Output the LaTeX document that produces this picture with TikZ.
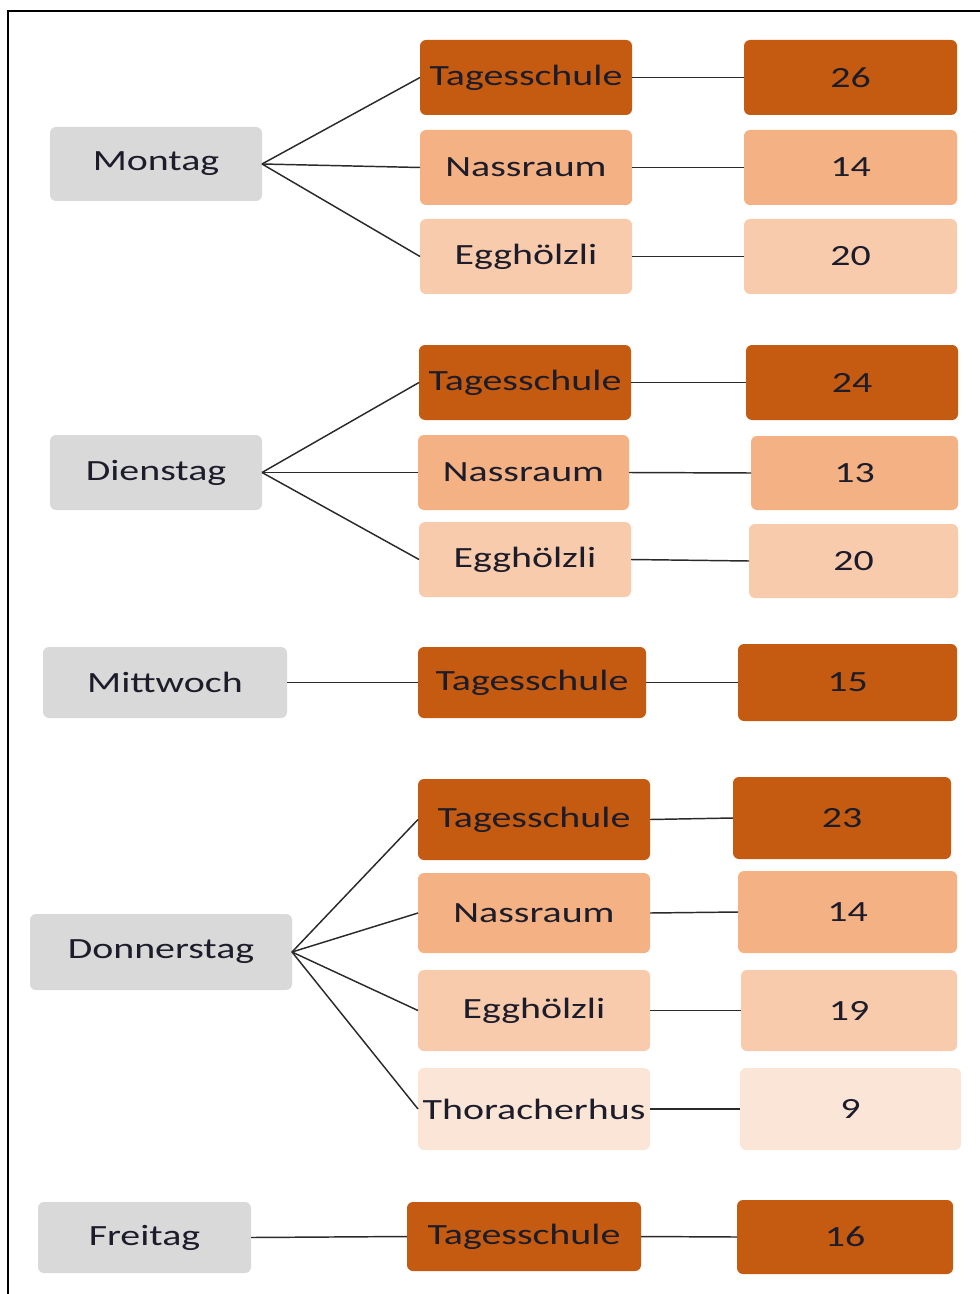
\documentclass[tikz,border=0pt]{standalone}
\usepackage{fontspec}
\setmainfont{Carlito}[FakeStretch=1.36]
\definecolor{dk}{HTML}{C55A11}
\definecolor{md}{HTML}{F4B183}
\definecolor{lt}{HTML}{F8CBAD}
\definecolor{vl}{HTML}{FBE5D6}
\definecolor{gr}{HTML}{D9D9D9}
\definecolor{txt}{HTML}{1C1C2A}
\definecolor{ln}{HTML}{2A2A2A}
\newcommand\bx[7]{\node[#6, minimum width={(#4-#2)*0.75pt}, minimum height={(#5-#3)*0.75pt}] (#1) at ({(#2+#4)/2},{(#3+#5)/2}) {#7};}
\tikzset{
  base/.style={rounded corners=4.5pt, inner sep=0pt, outer sep=0pt, text=txt, font=\fontsize{22}{26}\selectfont},
  day/.style={base, fill=gr},
  cdk/.style={base, fill=dk},
  cmd/.style={base, fill=md},
  clt/.style={base, fill=lt},
  cvl/.style={base, fill=vl},
  con/.style={draw=ln, line width=1.1pt},
  frame/.style={draw=black, line width=1.6pt}
}
\begin{document}
\begin{tikzpicture}[x=0.75pt,y=-0.75pt]
\useasboundingbox (0,0) rectangle (980,1294);
\coordinate (f1) at (8,1296);
\coordinate (f2) at (8,11);
\coordinate (f3) at (982,11);
\draw[frame] (f1) -- (f2) -- (f3);
% Montag
\bx{mo}{50}{127}{262}{201}{day}{Montag}
\bx{mo1}{420}{40}{632}{115}{cdk}{Tagesschule}
\bx{mo2}{420}{130}{632}{205}{cmd}{Nassraum}
\bx{mo3}{420}{219}{632}{294}{clt}{Egghölzli}
\bx{mo1n}{744}{40}{957}{115}{cdk}{26}
\bx{mo2n}{744}{130}{957}{205}{cmd}{14}
\bx{mo3n}{744}{219}{957}{294}{clt}{20}
% Dienstag
\bx{di}{50}{435}{262}{510}{day}{Dienstag}
\bx{di1}{419}{345}{631}{420}{cdk}{Tagesschule}
\bx{di2}{418}{435}{629}{510}{cmd}{Nassraum}
\bx{di3}{419}{522}{631}{597}{clt}{Egghölzli}
\bx{di1n}{746}{345}{958}{420}{cdk}{24}
\bx{di2n}{751}{436}{958}{510}{cmd}{13}
\bx{di3n}{749}{524}{958}{598}{clt}{20}
% Mittwoch
\bx{mi}{43}{647}{287}{718}{day}{Mittwoch}
\bx{mi1}{418}{647}{646}{718}{cdk}{Tagesschule}
\bx{mi1n}{738}{644}{957}{721}{cdk}{15}
% Donnerstag
\bx{do}{30}{914}{292}{990}{day}{Donnerstag}
\bx{do1}{418}{779}{650}{860}{cdk}{Tagesschule}
\bx{do2}{418}{873}{650}{953}{cmd}{Nassraum}
\bx{do3}{418}{970}{650}{1051}{clt}{Egghölzli}
\bx{do4}{418}{1068}{650}{1150}{cvl}{Thoracherhus}
\bx{do1n}{733}{777}{951}{859}{cdk}{23}
\bx{do2n}{738}{871}{957}{953}{cmd}{14}
\bx{do3n}{741}{970}{957}{1051}{clt}{19}
\bx{do4n}{740}{1068}{961}{1150}{cvl}{9}
% Freitag
\bx{fr}{38}{1202}{251}{1273}{day}{Freitag}
\bx{fr1}{407}{1202}{641}{1271}{cdk}{Tagesschule}
\bx{fr1n}{737}{1200}{953}{1274}{cdk}{16}
% connectors
\foreach \d/\n in {mo/3,di/3,do/4}{
  \foreach \i in {1,...,\n}{
    \draw[con] (\d.east) -- (\d\i.west);
    \draw[con] (\d\i.east) -- (\d\i n.west);
  }
}
\draw[con] (mi.east) -- (mi1.west);
\draw[con] (mi1.east) -- (mi1n.west);
\draw[con] (fr.east) -- (fr1.west);
\draw[con] (fr1.east) -- (fr1n.west);
\end{tikzpicture}
\end{document}
